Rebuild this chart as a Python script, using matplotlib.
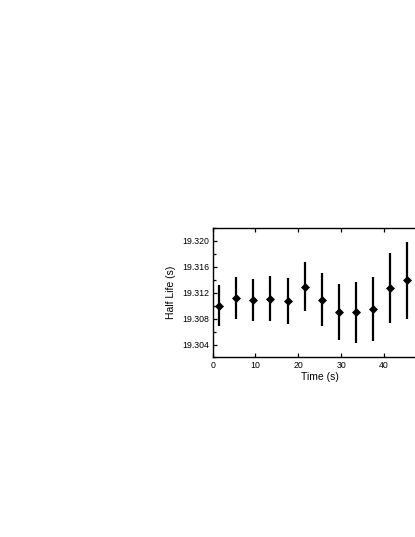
import matplotlib
matplotlib.use("Agg")
import matplotlib.pyplot as plt
from matplotlib.ticker import MultipleLocator, FormatStrFormatter

time_s = [1.5, 5.5, 9.5, 13.5, 17.5, 21.5, 25.5, 29.5, 33.5, 37.5, 41.5, 45.5]
half_life = [19.3100, 19.3112, 19.3109, 19.3111, 19.3107, 19.3129, 19.3109,
             19.3090, 19.3090, 19.3095, 19.3127, 19.3139]
half_life_err = [0.0032, 0.0033, 0.0032, 0.0035, 0.0035, 0.0038, 0.0041,
                 0.0043, 0.0047, 0.0050, 0.0054, 0.0060]
x_ticks = [0, 10, 20, 30, 40]

plt.rcParams['font.family'] = ['Liberation Sans', 'DejaVu Sans']

fig = plt.figure(figsize=(4.15, 5.37), dpi=100)
ax = fig.add_axes([0.5125, 0.3343, 0.5157, 0.2412])

ax.errorbar(time_s, half_life, yerr=half_life_err, fmt='D', color='black',
            ms=4.0, mew=0.5, elinewidth=1.6, capsize=0)

ax.set_xlim(0, 50)
ax.set_ylim(19.302, 19.322)
ax.set_xticks(x_ticks)
ax.yaxis.set_major_locator(MultipleLocator(0.004))
ax.yaxis.set_minor_locator(MultipleLocator(0.002))
ax.yaxis.set_major_formatter(FormatStrFormatter('%.3f'))

ax.tick_params(which='both', direction='in', top=True, right=True,
               labelsize=6.3, width=0.9, pad=2.7)
ax.tick_params(which='major', length=3.0)
ax.tick_params(which='minor', length=2.2)
for s in ax.spines.values():
    s.set_linewidth(1.0)

ax.set_xlabel('Time (s)', fontsize=7.5, labelpad=1.5)
ax.set_ylabel('Half Life (s)', fontsize=7.5, labelpad=4.5)

fig.savefig('out.png', dpi=100)
